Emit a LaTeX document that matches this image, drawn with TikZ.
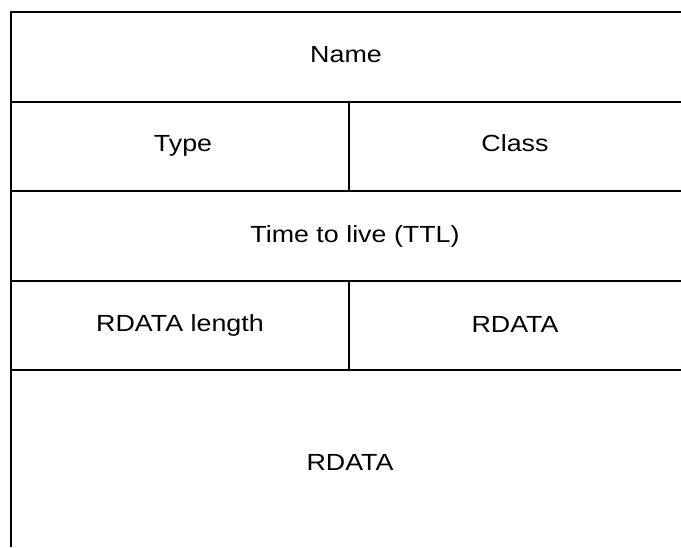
\documentclass[tikz,border=0pt]{standalone}
\usepackage{fontspec}
\newfontfamily\fieldfont[FakeStretch=1.15]{Liberation Sans}
\usetikzlibrary{positioning}
\tikzset{
  campo/.style={font=\fieldfont\fontsize{17.5pt}{20pt}\selectfont, inner sep=0pt, anchor=center},
  regla/.style={line width=2pt, black}
}

\begin{document}
\begin{tikzpicture}[x=0.75pt, y=-0.75pt]

\useasboundingbox[fill=white] (0,0) rectangle (681,547);

% marco del registro
\draw[regla] (681,12) -- (11,12) -- (11,547);
\draw[regla] (11,102) -- (681,102);
\draw[regla] (11,191) -- (681,191);
\draw[regla] (11,281) -- (681,281);
\draw[regla] (11,370) -- (681,370);
\draw[regla] (349,102) -- (349,191);
\draw[regla] (349,281) -- (349,370);

% campos
\node[campo] (nombre) at (346,55) {Name};
\node[campo] (tipo) at (183,146) {Type};
\node[campo] (clase) at (515,143) {Class};
\node[campo] (ttl) at (355,236) {Time to live (TTL)};
\node[campo] (rdlong) at (180,325) {RDATA length};
\node[campo] (rdata) at (515,324) {RDATA};
\node[campo] (rdatab) at (350,462) {RDATA};

\end{tikzpicture}
\end{document}
